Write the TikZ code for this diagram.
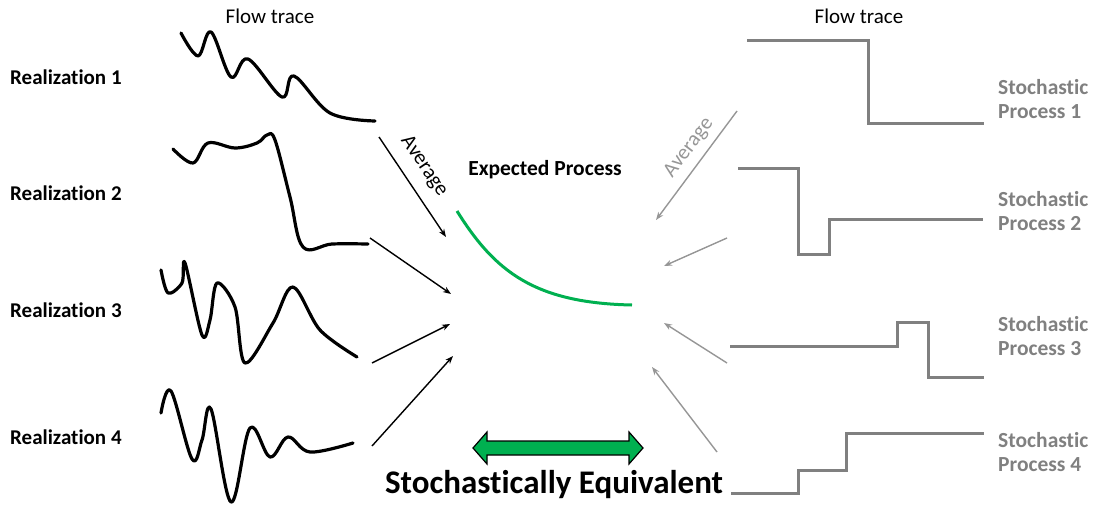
\documentclass[tikz,border=0pt]{standalone}
\usepackage{fontspec}
\setmainfont[Ligatures=NoCommon]{Carlito}
\usetikzlibrary{arrows.meta}
\definecolor{okgreen}{RGB}{0,176,80}
\definecolor{stepgray}{RGB}{128,128,128}
\definecolor{arrgray}{RGB}{150,150,150}
\begin{document}
\begin{tikzpicture}[x=1pt,y=-1pt,
  lbl/.style={font=\fontsize{21}{24}\selectfont\bfseries, anchor=west, inner sep=0},
  splbl/.style={font=\fontsize{21.5}{24.5}\selectfont\bfseries, text=stepgray, anchor=west, align=left, inner sep=0},
  ttl/.style={font=\fontsize{21}{24}\selectfont, inner sep=0},
  trace/.style={line width=3.2pt, line cap=round, line join=round},
  stepline/.style={line width=3pt, draw=stepgray},
  blackarr/.style={line width=1.4pt, -{Stealth[length=8pt,width=6pt]}},
  grayarr/.style={line width=1.4pt, draw=arrgray, -{Stealth[length=8pt,width=6pt]}, arrgray},
]
\useasboundingbox (0,0) rectangle (1097,506);

% titles
\node[ttl] (ft1) at (270,16) {Flow trace};
\node[ttl] (ft2) at (859,16) {Flow trace};

% realization labels
\node[lbl] (r1) at (10,77) {Realization 1};
\node[lbl] (r2) at (10,193) {Realization 2};
\node[lbl] (r3) at (10,310) {Realization 3};
\node[lbl] (r4) at (10,437) {Realization 4};

% realization traces
\draw[trace] plot[smooth, tension=0.6] coordinates {(181,33) (198,56) (211,32) (231,77) (248,59) (282,97) (294,76) (330,113) (375,121)};
\draw[trace] plot[smooth, tension=0.6] coordinates {(173,149) (193,163) (208,143) (235,148) (257,143) (267,135) (275,140) (290,197) (303,247) (332,244) (368,244)};
\draw[trace] plot[smooth, tension=0.55] coordinates {(161,270) (168,293) (182,283) (185,263) (202,335) (210,320) (217,283) (235,307) (245,363) (273,323) (293,287) (320,330) (357,357)};
\draw[trace] plot[smooth, tension=0.6] coordinates {(161,413) (171,391) (192,459) (202,440) (211,409) (231,502) (250,428) (270,457) (288,437) (310,452) (353,443)};

% left arrows
\coordinate (la1s) at (379,137); \coordinate (la1e) at (446,237);
\coordinate (la2s) at (370,238); \coordinate (la2e) at (451,294);
\coordinate (la3s) at (372,363); \coordinate (la3e) at (450,324);
\coordinate (la4s) at (372,446); \coordinate (la4e) at (453,356);
\draw[blackarr] (la1s) -- (la1e);
\draw[blackarr] (la2s) -- (la2e);
\draw[blackarr] (la3s) -- (la3e);
\draw[blackarr] (la4s) -- (la4e);
\node[ttl, rotate=-56] (avg1) at (424,166) {Average};

% expected process
\node[font=\fontsize{21.5}{24}\selectfont\bfseries, inner sep=0] (ep) at (545,170) {Expected Process};
\coordinate (gs) at (457,211); \coordinate (ge) at (632,305);
\draw[okgreen, line width=3pt] (gs) .. controls (495,272) and (535,303) .. (ge);

% stochastic processes
\draw[stepline] (747,40) -- (868,40) -- (868,123) -- (984,123);
\draw[stepline] (738,168) -- (798,168) -- (798,254) -- (829,254) -- (829,219) -- (983,219);
\draw[stepline] (730,346) -- (897,346) -- (897,322) -- (928,322) -- (928,377) -- (984,377);
\draw[stepline] (731,493) -- (798,493) -- (798,470) -- (846,470) -- (846,433) -- (984,433);

\node[splbl] (sp1) at (998,99) {Stochastic\\Process 1};
\node[splbl] (sp2) at (998,211) {Stochastic\\Process 2};
\node[splbl] (sp3) at (998,336) {Stochastic\\Process 3};
\node[splbl] (sp4) at (998,452) {Stochastic\\Process 4};

% right arrows
\coordinate (ra1s) at (737,111); \coordinate (ra1e) at (656,220);
\coordinate (ra2s) at (727,238); \coordinate (ra2e) at (664,266);
\coordinate (ra3s) at (727,363); \coordinate (ra3e) at (664,323);
\coordinate (ra4s) at (717,452); \coordinate (ra4e) at (652,367);
\draw[grayarr] (ra1s) -- (ra1e);
\draw[grayarr] (ra2s) -- (ra2e);
\draw[grayarr] (ra3s) -- (ra3e);
\draw[grayarr] (ra4s) -- (ra4e);
\node[ttl, rotate=53, text=arrgray] (avg2) at (689,148) {Average};

% double arrow
\draw[fill=okgreen, draw=black, line width=1.2pt] (473,448) -- (487,432) -- (487,441) -- (629,441) -- (629,432) -- (643,448) -- (629,464) -- (629,455) -- (487,455) -- (487,464) -- cycle;

\node[font=\fontsize{33}{36}\selectfont\bfseries, inner sep=0] (se) at (554,485) {Stochastically Equivalent};
\end{tikzpicture}
\end{document}
